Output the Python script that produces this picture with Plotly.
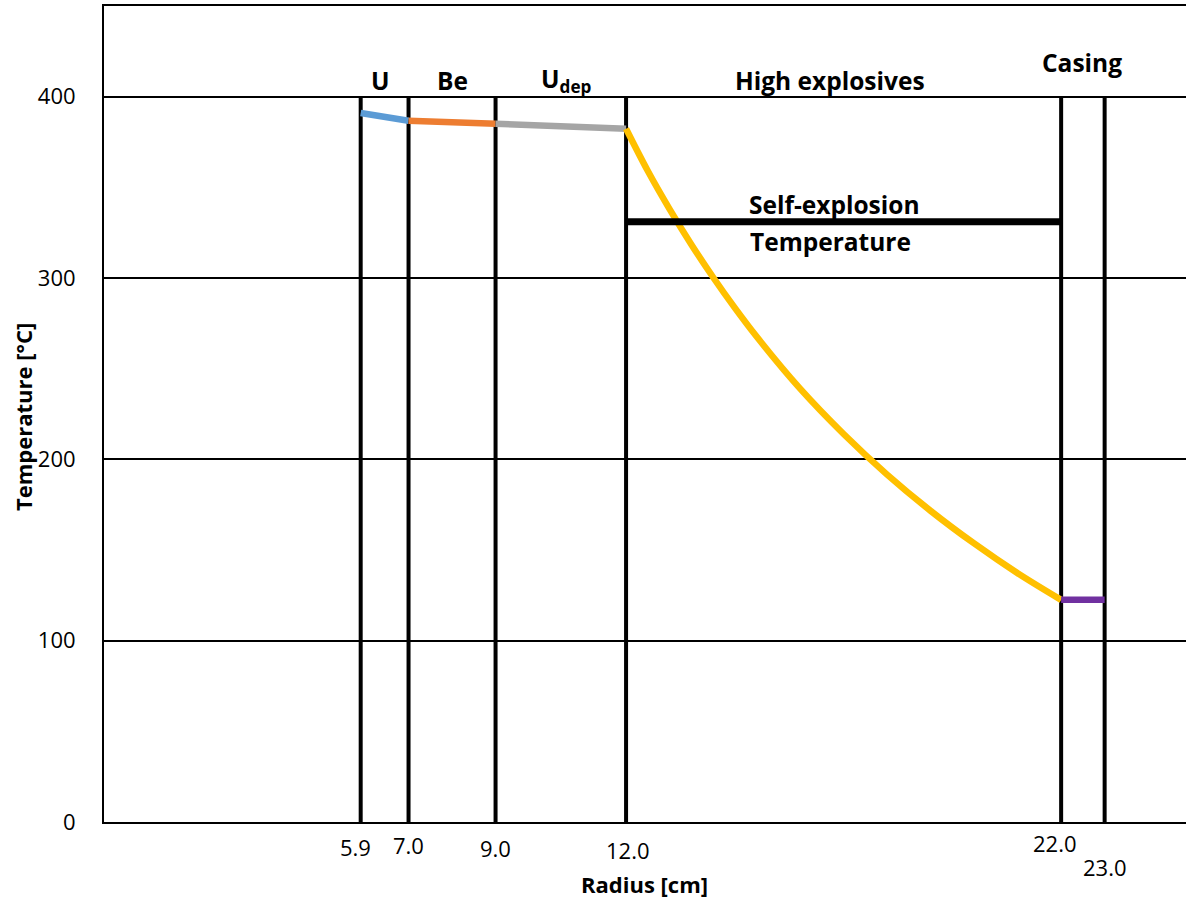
import plotly.graph_objects as go

# ---- data ----
radius_u = [5.9, 6.4, 7.0]
temp_u = [391.0, 388.8, 386.7]
radius_be = [7.0, 8.0, 9.0]
temp_be = [386.7, 385.9, 385.1]
radius_udep = [9.0, 10.5, 12.0]
temp_udep = [385.1, 383.8, 382.3]
radius_he = [12.0, 12.5, 13.0, 13.5, 14.0, 14.5, 15.0, 16.0, 17.0, 18.0, 19.0, 20.0, 21.0, 22.0]
temp_he = [382.3, 359.0, 338.0, 318.5, 300.4, 283.5, 267.7, 239.0, 214.0, 191.6, 171.6, 153.6, 137.2, 122.5]
radius_casing = [22.0, 23.0]
temp_casing = [122.5, 122.5]
self_explosion_radius = [12.0, 22.0]
self_explosion_temp = [331.0, 331.0]
boundaries = [5.9, 7.0, 9.0, 12.0, 22.0, 23.0]
boundary_top = 400
tick_text = ["5.9", "7.0", "9.0", "12.0", "22.0", "23.0"]
y_ticks = [0, 100, 200, 300, 400]

FONT = "Open Sans"

fig = go.Figure()

# vertical region boundaries
vx, vy = [], []
for b in boundaries:
    vx += [b, b, None]
    vy += [0, boundary_top, None]
fig.add_trace(go.Scatter(x=vx, y=vy, mode="lines",
                         line=dict(color="black", width=4), hoverinfo="skip"))

segments = [
    (radius_u, temp_u, "#5B9BD5", "linear"),
    (radius_be, temp_be, "#ED7D31", "linear"),
    (radius_udep, temp_udep, "#A5A5A5", "linear"),
    (radius_he, temp_he, "#FFC000", "spline"),
    (radius_casing, temp_casing, "#7030A0", "linear"),
]
for xs, ys, c, shp in segments:
    fig.add_trace(go.Scatter(x=xs, y=ys, mode="lines",
                             line=dict(color=c, width=6.5, shape=shp)))

fig.add_trace(go.Scatter(x=self_explosion_radius, y=self_explosion_temp, mode="lines",
                         line=dict(color="black", width=7)))

# x tick labels (staggered, as in the reference)
tick_shift = [(-5, -25), (0, -23), (0, -26), (2, -28), (-6, -21), (0, -45)]
for v, t, (dx, dy) in zip(boundaries, tick_text, tick_shift):
    fig.add_annotation(x=v, y=0, yref="paper", text=t, showarrow=False,
                       xshift=dx, yshift=dy, yanchor="middle",
                       font=dict(family=FONT, size=22, color="black"))

bold = dict(family=FONT, size=24.5, color="black")
labels = [
    ("<b>U</b>", 6.36, 409),
    ("<b>Be</b>", 8.0, 409),
    ("<b>U<sub>dep</sub></b>", 10.64, 409),
    ("<b>High explosives</b>", 16.69, 409),
    ("<b>Casing</b>", 22.47, 419),
    ("<b>Self-explosion</b>", 16.8, 340.5),
    ("<b>Temperature</b>", 16.69, 320),
]
for t, x, y in labels:
    fig.add_annotation(x=x, y=y, text=t, showarrow=False, yanchor="middle",
                       font=bold)

fig.update_layout(
    width=1186, height=900,
    margin=dict(l=104, r=0, t=6, b=78),
    plot_bgcolor="white", paper_bgcolor="white",
    showlegend=False,
    font=dict(family=FONT, color="black"),
)
fig.update_xaxes(range=[0, 24.87], showgrid=False, zeroline=False,
                 showticklabels=False, ticks="",
                 showline=True, mirror=True, linecolor="black", linewidth=2)
fig.update_yaxes(range=[0, 450], tickvals=y_ticks, showgrid=True,
                 gridcolor="black", gridwidth=2, zeroline=False,
                 showline=True, linecolor="black", linewidth=2,
                 ticks="", ticklabelstandoff=22,
                 tickfont=dict(family=FONT, size=22, color="black"))

fig.add_annotation(x=0.5, xref="paper", y=0, yref="paper", yshift=-62,
                   xshift=-1, xanchor="center", yanchor="middle",
                   text="<b>Radius [cm]</b>", showarrow=False,
                   font=dict(family=FONT, size=22, color="black"))
fig.add_annotation(x=0, xref="paper", y=0.5, yref="paper", xshift=-81,
                   yshift=-3, xanchor="center", yanchor="middle",
                   text="<b>Temperature [°C]</b>", showarrow=False,
                   textangle=-90, font=dict(family=FONT, size=22, color="black"))

fig.write_html("out.html", config={"displayModeBar": False},
               post_script="document.body.style.margin='0';")
